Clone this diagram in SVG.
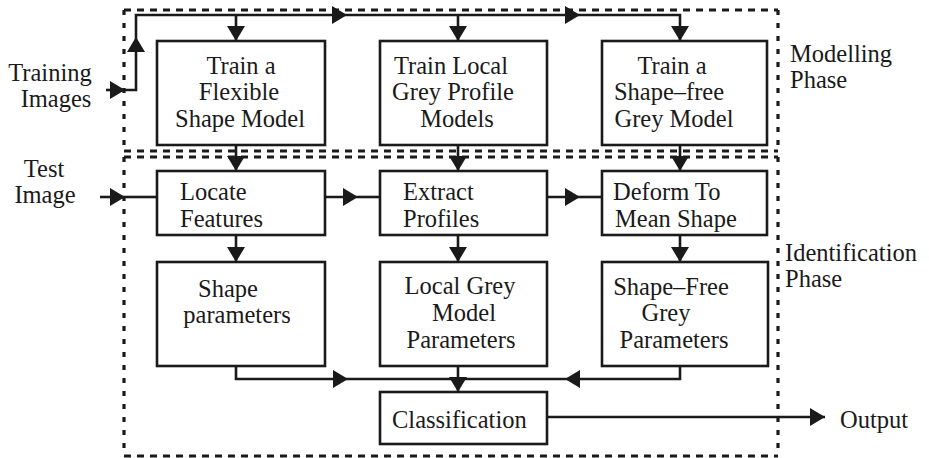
<svg xmlns="http://www.w3.org/2000/svg" width="929" height="458" viewBox="0 0 929 458">
<style>
  .box { fill: none; stroke: #1a1a1a; stroke-width: 2.6; }
  .dh { fill: none; stroke: #1a1a1a; stroke-width: 3.2; stroke-dasharray: 7 6; }
  .dv { fill: none; stroke: #1a1a1a; stroke-width: 3.2; stroke-dasharray: 5 8; }
  .c { fill: none; stroke: #1a1a1a; stroke-width: 2.6; }
  .ca { fill: none; stroke: #1a1a1a; stroke-width: 2.6; marker-end: url(#ah); }
  text { font-family: "Liberation Serif", "Times New Roman", serif; font-size: 24.5px; fill: #1a1a1a; }
  .m { text-anchor: middle; }
</style>
<defs>
  <marker id="ah" markerUnits="userSpaceOnUse" viewBox="0 0 15 18" refX="15" refY="9" markerWidth="15" markerHeight="18" orient="auto">
    <path d="M0,0 L15,9 L0,18 z" fill="#1a1a1a"/>
  </marker>
</defs>
<rect width="929" height="458" fill="#ffffff"/>

<g id="modelling-phase">
  <line class="dh" x1="124" y1="10" x2="778" y2="10"/>
  <line class="dh" x1="124" y1="151" x2="778" y2="151"/>
  <line class="dv" x1="124" y1="10" x2="124" y2="151"/>
  <line class="dv" x1="778" y1="10" x2="778" y2="151"/>
  <text x="790" y="62">Modelling</text>
  <text x="790" y="88">Phase</text>
</g>

<g id="identification-phase">
  <line class="dh" x1="124" y1="157" x2="778" y2="157"/>
  <line class="dh" x1="124" y1="456" x2="778" y2="456"/>
  <line class="dv" x1="124" y1="157" x2="124" y2="456"/>
  <line class="dv" x1="778" y1="157" x2="778" y2="456"/>
  <text x="785" y="261">Identification</text>
  <text x="785" y="287">Phase</text>
</g>

<g id="training-images">
  <text class="m" x="50" y="81">Training</text>
  <text class="m" x="56" y="107">Images</text>
</g>

<g id="test-image">
  <text class="m" x="44" y="177">Test</text>
  <text class="m" x="45" y="203">Image</text>
</g>

<g id="train-shape-model">
  <rect class="box" x="157" y="41" width="168" height="104"/>
  <text class="m" x="241" y="74">Train a</text>
  <text class="m" x="239" y="100">Flexible</text>
  <text class="m" x="240" y="127">Shape Model</text>
</g>

<g id="train-grey-profile">
  <rect class="box" x="380" y="41" width="167" height="104"/>
  <text class="m" x="451" y="74">Train Local</text>
  <text class="m" x="453" y="100">Grey Profile</text>
  <text class="m" x="457" y="127">Models</text>
</g>

<g id="train-shape-free">
  <rect class="box" x="602" y="41" width="165" height="104"/>
  <text class="m" x="672" y="74">Train a</text>
  <text class="m" x="669" y="100">Shape–free</text>
  <text class="m" x="674" y="127">Grey Model</text>
</g>

<g id="locate-features">
  <rect class="box" x="157" y="171" width="168" height="64"/>
  <text x="180" y="200">Locate</text>
  <text x="180" y="227">Features</text>
</g>

<g id="extract-profiles">
  <rect class="box" x="380" y="171" width="167" height="64"/>
  <text x="403" y="200">Extract</text>
  <text x="403" y="227">Profiles</text>
</g>

<g id="deform-mean-shape">
  <rect class="box" x="602" y="171" width="165" height="64"/>
  <text x="613" y="200">Deform To</text>
  <text x="615" y="227">Mean Shape</text>
</g>

<g id="shape-parameters">
  <rect class="box" x="157" y="262" width="168" height="104"/>
  <text class="m" x="228" y="297">Shape</text>
  <text class="m" x="237" y="323">parameters</text>
</g>

<g id="local-grey-parameters">
  <rect class="box" x="380" y="262" width="167" height="104"/>
  <text class="m" x="460" y="294">Local Grey</text>
  <text class="m" x="464" y="321">Model</text>
  <text class="m" x="461" y="348">Parameters</text>
</g>

<g id="shape-free-parameters">
  <rect class="box" x="602" y="262" width="166" height="104"/>
  <text class="m" x="671" y="295">Shape–Free</text>
  <text class="m" x="666" y="321">Grey</text>
  <text class="m" x="674" y="348">Parameters</text>
</g>

<g id="classification">
  <rect class="box" x="380" y="392" width="167" height="52"/>
  <text x="392" y="428">Classification</text>
</g>

<g id="output">
  <text x="840" y="428">Output</text>
</g>

<g id="connectors">
  <path class="ca" d="M106,90 H125"/>
  <path class="ca" d="M125,90 H136 V37"/>
  <path class="ca" d="M136,37 V15 H347"/>
  <path class="ca" d="M347,15 H580"/>
  <path class="ca" d="M580,15 H680 V41"/>
  <path class="ca" d="M236,15 V41"/>
  <path class="ca" d="M458,15 V41"/>

  <path class="ca" d="M236,145 V171"/>
  <path class="ca" d="M458,145 V171"/>
  <path class="ca" d="M680,145 V171"/>

  <path class="ca" d="M100,197 H125"/>
  <path class="c" d="M125,197 H157"/>
  <path class="ca" d="M325,197 H358"/>
  <path class="c" d="M358,197 H380"/>
  <path class="ca" d="M547,197 H580"/>
  <path class="c" d="M580,197 H602"/>

  <path class="ca" d="M236,235 V262"/>
  <path class="ca" d="M458,235 V262"/>
  <path class="ca" d="M680,235 V262"/>

  <path class="ca" d="M236,366 V379 H348"/>
  <path class="c" d="M348,379 H458"/>
  <path class="ca" d="M458,366 V392"/>
  <path class="ca" d="M680,366 V379 H565"/>
  <path class="c" d="M565,379 H458"/>

  <path class="ca" d="M547,417 H825"/>
</g>
</svg>
